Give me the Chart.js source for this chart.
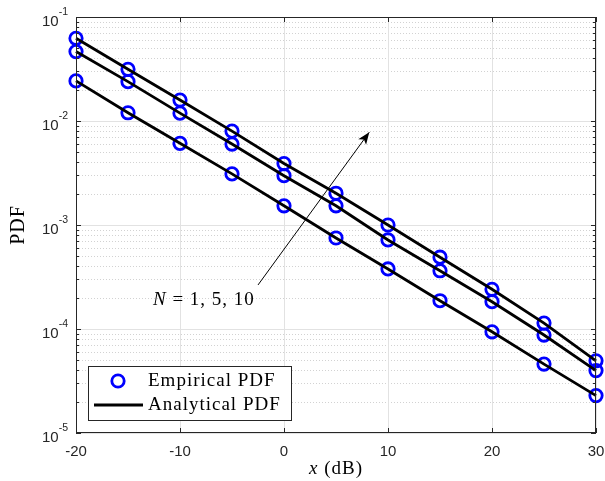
<!DOCTYPE html>
<html>
<head>
<meta charset="utf-8">
<script src="https://cdn.jsdelivr.net/npm/chart.js@4"></script>
<style>
  html, body { margin: 0; padding: 0; background: #fff; }
  #wrap { width: 605px; height: 481px; position: relative; }
</style>
</head>
<body>
<div id="wrap"><canvas id="myChart"></canvas></div>
<script>
// Datos
var xValues = [-20, -15, -10, -5, 0, 5, 10, 15, 20, 25, 30];
var pdfN1  = [0.0243, 0.0120, 0.0061, 0.0031, 0.00153, 0.00075, 0.000378, 0.000187, 0.000094, 0.000046, 0.0000229];
var pdfN5  = [0.0465, 0.0239, 0.0119, 0.0060, 0.00298, 0.00153, 0.000718, 0.000363, 0.000183, 0.0000875, 0.0000398];
var pdfN10 = [0.0624, 0.0314, 0.0159, 0.0080, 0.0039, 0.00202, 0.00100, 0.00049, 0.000241, 0.000114, 0.0000495];
var xTicks = [-20, -10, 0, 10, 20, 30];
var yExponents = [-1, -2, -3, -4, -5];
var legendLabels = ['Empirical PDF', 'Analytical PDF'];

function pts(ys) {
    var out = [];
    for (var i = 0; i < xValues.length; i++) out.push({ x: xValues[i], y: ys[i] });
    return out;
}

var series = [pdfN10, pdfN5, pdfN1];
var datasets = [];
// lineas analiticas (encima)
series.forEach(function (s) {
    datasets.push({ data: pts(s), borderColor: '#000', borderWidth: 2.8, pointRadius: 0, fill: false, tension: 0, clip: false });
});
// marcadores empiricos
series.forEach(function (s) {
    datasets.push({ data: pts(s), showLine: false, pointRadius: 6.2, pointBorderWidth: 2.8, clip: false,
        pointBorderColor: '#0000ff', pointBackgroundColor: 'rgba(0,0,0,0)', borderColor: '#0000ff' });
});

var serif = '"Liberation Serif", "DejaVu Serif", serif';
var sans = '"Liberation Sans", Arial, sans-serif';

var decor = {
    id: 'decor',
    beforeDatasetsDraw: function (chart) {
        var c = chart.ctx, a = chart.chartArea, xs = chart.scales.x, ys = chart.scales.y;
        c.save();
        // rejilla menor punteada
        c.strokeStyle = '#d2d2d2'; c.lineWidth = 1; c.setLineDash([1, 2]);
        for (var e = -5; e < -1; e++) {
            for (var m = 2; m <= 9; m++) {
                var py = Math.round(ys.getPixelForValue(m * Math.pow(10, e))) + 0.5;
                c.beginPath(); c.moveTo(a.left, py); c.lineTo(a.right, py); c.stroke();
            }
        }
        c.setLineDash([]);
        c.strokeStyle = '#e2e2e2';
        yExponents.forEach(function (e) {
            var py = Math.round(ys.getPixelForValue(Math.pow(10, e))) + 0.5;
            c.beginPath(); c.moveTo(a.left, py); c.lineTo(a.right, py); c.stroke();
        });
        xTicks.forEach(function (t) {
            var px = Math.round(xs.getPixelForValue(t)) + 0.5;
            c.beginPath(); c.moveTo(px, a.top); c.lineTo(px, a.bottom); c.stroke();
        });
        c.restore();
    },
    afterDatasetsDraw: function (chart) {
        var c = chart.ctx, a = chart.chartArea, xs = chart.scales.x, ys = chart.scales.y;
        c.save();
        c.strokeStyle = '#262626'; c.lineWidth = 1;
        c.strokeRect(a.left + 0.5, a.top + 0.5, a.right - a.left - 1, a.bottom - a.top - 1);
        // marcas
        c.beginPath();
        xTicks.forEach(function (t) {
            var px = Math.round(xs.getPixelForValue(t)) + 0.5;
            c.moveTo(px, a.bottom); c.lineTo(px, a.bottom - 5);
            c.moveTo(px, a.top); c.lineTo(px, a.top + 5);
        });
        for (var e = -5; e < -1; e++) {
            for (var m = 1; m <= 9; m++) {
                var py = Math.round(ys.getPixelForValue(m * Math.pow(10, e))) + 0.5;
                var len = m === 1 ? 5 : 3;
                c.moveTo(a.left, py); c.lineTo(a.left + len, py);
                c.moveTo(a.right, py); c.lineTo(a.right - len, py);
            }
        }
        c.stroke();
        // etiquetas x
        c.fillStyle = '#262626';
        c.font = '15px ' + sans; c.textAlign = 'center'; c.textBaseline = 'middle';
        xTicks.forEach(function (t) {
            c.fillText(String(t), xs.getPixelForValue(t), a.bottom + 19);
        });
        // etiquetas y con exponente
        yExponents.forEach(function (e) {
            var py = ys.getPixelForValue(Math.pow(10, e));
            var ex = String(e);
            c.font = '10.5px ' + sans;
            var wExp = c.measureText(ex).width;
            c.textAlign = 'right'; c.textBaseline = 'alphabetic';
            var right = a.left - 8;
            c.fillText(ex, right, py - 2);
            c.font = '15px ' + sans;
            c.fillText('10', right - wExp, py + 9);
        });
        c.restore();
    },
    afterDraw: function (chart) {
        var c = chart.ctx, a = chart.chartArea, xs = chart.scales.x, ys = chart.scales.y;
        c.save();
        c.fillStyle = '#000';
        c.letterSpacing = '1px';
        // titulo eje x
        c.textBaseline = 'middle'; c.textAlign = 'left';
        c.font = 'italic 19px ' + serif;
        var w1 = c.measureText('x').width;
        c.font = '19px ' + serif;
        var w2 = c.measureText(' (dB)').width;
        var cx = (a.left + a.right) / 2 - (w1 + w2) / 2;
        c.font = 'italic 19px ' + serif; c.fillText('x', cx, 469);
        c.font = '19px ' + serif; c.fillText(' (dB)', cx + w1, 469);
        // titulo eje y
        c.save();
        c.translate(19, (a.top + a.bottom) / 2);
        c.rotate(-Math.PI / 2);
        c.textAlign = 'center';
        c.font = '20px ' + serif;
        c.fillText('PDF', 0, 0);
        c.restore();
        // flecha de anotacion
        var x0 = xs.getPixelForValue(-2.5), y0 = ys.getPixelForValue(2.65e-4);
        var x1 = xs.getPixelForValue(8.2), y1 = ys.getPixelForValue(7.8e-3);
        c.strokeStyle = '#000'; c.lineWidth = 1;
        c.beginPath(); c.moveTo(x0, y0); c.lineTo(x1, y1); c.stroke();
        var ang = Math.atan2(y1 - y0, x1 - x0);
        c.beginPath();
        c.moveTo(x1, y1);
        c.lineTo(x1 - 13 * Math.cos(ang - 0.38), y1 - 13 * Math.sin(ang - 0.38));
        c.lineTo(x1 - 9 * Math.cos(ang), y1 - 9 * Math.sin(ang));
        c.lineTo(x1 - 13 * Math.cos(ang + 0.38), y1 - 13 * Math.sin(ang + 0.38));
        c.closePath(); c.fill();
        // texto N = 1, 5, 10
        var tx = xs.getPixelForValue(-7.7), ty = ys.getPixelForValue(1.9e-4);
        c.textAlign = 'left';
        c.font = 'italic 19px ' + serif;
        var wN = c.measureText('N').width;
        c.font = '19px ' + serif;
        var rest = ' = 1, 5, 10';
        var wR = c.measureText(rest).width;
        var sx = tx - (wN + wR) / 2;
        c.font = 'italic 19px ' + serif; c.fillText('N', sx, ty);
        c.font = '19px ' + serif; c.fillText(rest, sx + wN, ty);
        // leyenda
        var lx = 88.5, ly = 366.5, lw = 203, lh = 54;
        c.fillStyle = '#fff'; c.fillRect(lx, ly, lw, lh);
        c.strokeStyle = '#262626'; c.lineWidth = 1; c.strokeRect(lx, ly, lw, lh);
        c.strokeStyle = '#0000ff'; c.lineWidth = 2.8;
        c.beginPath(); c.arc(118, 381, 6.2, 0, Math.PI * 2); c.stroke();
        c.strokeStyle = '#000'; c.lineWidth = 2.8;
        c.beginPath(); c.moveTo(94, 405); c.lineTo(143, 405); c.stroke();
        c.fillStyle = '#000'; c.font = '19px ' + serif; c.textBaseline = 'middle';
        c.fillText(legendLabels[0], 148, 381);
        c.fillText(legendLabels[1], 148, 405);
        c.restore();
    }
};

var ctx = document.getElementById('myChart').getContext('2d');
var myChart = new Chart(ctx, {
    type: 'line',
    data: { datasets: datasets },
    options: {
        responsive: true,
        maintainAspectRatio: false,
        animation: false,
        layout: { padding: { left: 76, right: 9, top: 17, bottom: 48 } },
        plugins: { legend: { display: false }, tooltip: { enabled: false } },
        scales: {
            x: { type: 'linear', min: -20, max: 30, display: false },
            y: { type: 'logarithmic', min: 1e-5, max: 1e-1, display: false }
        }
    },
    plugins: [decor]
});
</script>
</body>
</html>
